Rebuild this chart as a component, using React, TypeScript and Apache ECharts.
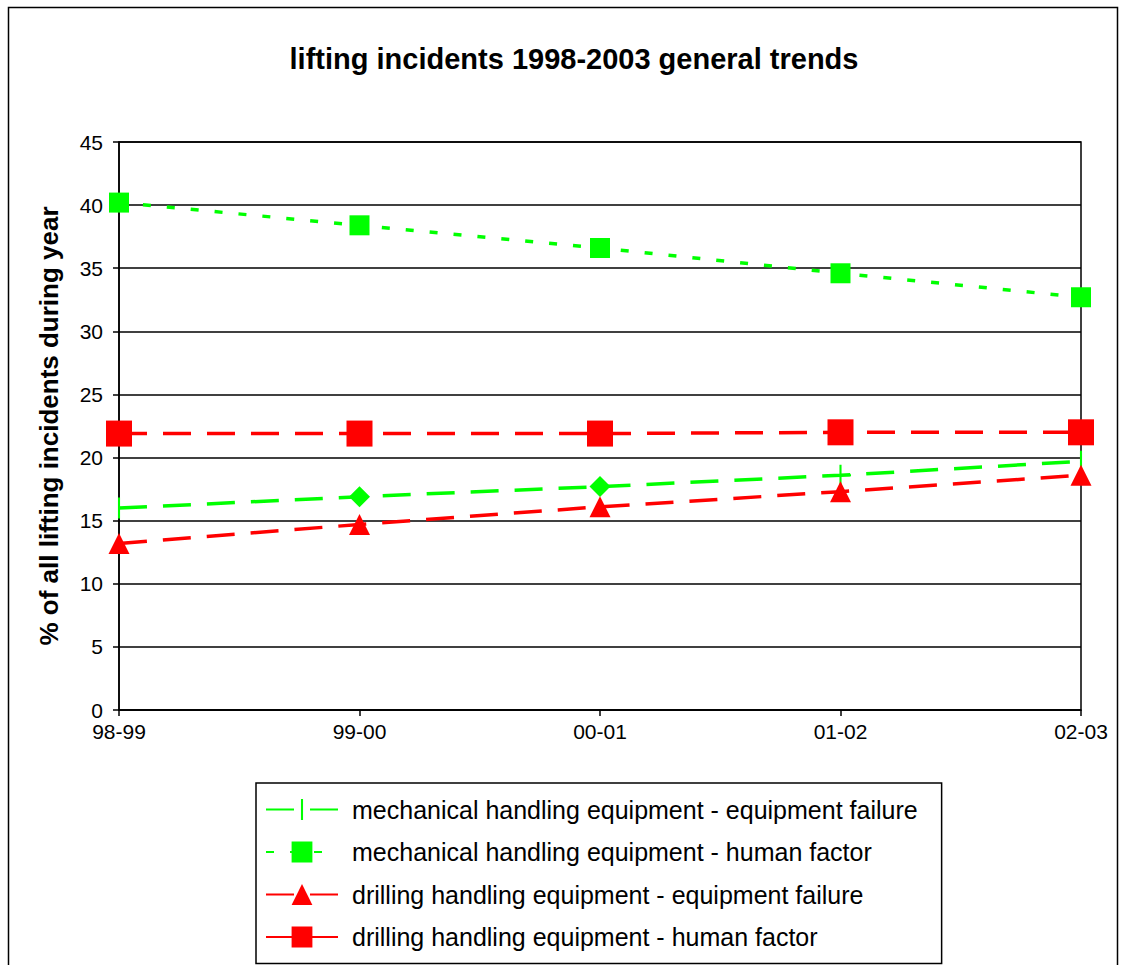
import React, { useEffect, useRef } from "react";
import * as echarts from "echarts";

const categories = ["98-99", "99-00", "00-01", "01-02", "02-03"];
const mechEquipFailure = [16.0, 16.9, 17.7, 18.6, 19.7];
const mechHumanFactor = [40.2, 38.4, 36.6, 34.6, 32.7];
const drillEquipFailure = [13.2, 14.7, 16.1, 17.3, 18.6];
const drillHumanFactor = [21.9, 21.9, 21.9, 22.0, 22.0];
const seriesNames = [
  "mechanical handling equipment - equipment failure",
  "mechanical handling equipment - human factor",
  "drilling handling equipment - equipment failure",
  "drilling handling equipment - human factor",
];
const yTicks = [0, 45, 5];

const FONT = "'Liberation Sans', Arial, sans-serif";
const GREEN = "#00ff00";
const RED = "#ff0000";
const VBAR = "path://M0,0L0.01,0L0,0.01Z M20,20L19.99,20L20,19.99Z M9,0h2v20h-2z";
const PLUS = "path://M9,0h2v9h9v2h-9v9h-2v-9h-9v-2h9z";
const mechMarkers = [VBAR, "diamond", "diamond", PLUS, VBAR];

export default function App() {
  const ref = useRef<HTMLDivElement>(null);
  useEffect(() => {
    const chart = echarts.init(ref.current!, null, { renderer: "svg" });
    chart.setOption({
      animation: false,
      backgroundColor: "#ffffff",
      title: {
        text: "lifting incidents 1998-2003 general trends",
        left: 569,
        textAlign: "center",
        top: 39,
        textStyle: { fontFamily: FONT, fontWeight: "bold", fontSize: 29, color: "#000" },
      },
      graphic: [
        {
          type: "rect",
          shape: { x: 8.5, y: 7.5, width: 1109, height: 980 },
          style: { fill: "none", stroke: "#000", lineWidth: 1.5 },
          silent: true,
        },
      ],
      legend: {
        orient: "vertical",
        left: 256,
        top: 783,
        padding: [14, 24, 14, 9],
        borderColor: "#000",
        borderWidth: 1.5,
        itemWidth: 72,
        itemHeight: 26,
        itemGap: 17.5,
        textStyle: { fontFamily: FONT, fontSize: 25, color: "#000", padding: [0, 0, 0, 9] },
        data: seriesNames,
      },
      grid: {
        left: 119,
        right: 44,
        top: 142,
        bottom: 255,
        show: true,
        borderColor: "#000",
        borderWidth: 1.5,
        containLabel: false,
      },
      xAxis: {
        type: "category",
        data: categories,
        boundaryGap: false,
        axisLine: { lineStyle: { color: "#000", width: 1.5 } },
        axisTick: { show: true, length: 6, lineStyle: { color: "#000", width: 1.5 } },
        axisLabel: { fontFamily: FONT, fontSize: 21, color: "#000", margin: 11 },
      },
      yAxis: {
        type: "value",
        min: yTicks[0],
        max: yTicks[1],
        interval: yTicks[2],
        name: "% of all lifting incidents during year",
        nameLocation: "middle",
        nameGap: 57,
        nameTextStyle: { fontFamily: FONT, fontWeight: "bold", fontSize: 26, color: "#000" },
        axisLine: { show: true, lineStyle: { color: "#000", width: 1.5 } },
        axisTick: { show: true, length: 6, lineStyle: { color: "#000", width: 1.5 } },
        axisLabel: { fontFamily: FONT, fontSize: 21, color: "#000", margin: 16 },
        splitLine: { show: true, lineStyle: { color: "#000", width: 1.5 } },
      },
      series: [
        {
          name: seriesNames[0],
          type: "line",
          symbol: VBAR,
          symbolSize: 21,
          data: mechEquipFailure.map((v, i) => ({ value: v, symbol: mechMarkers[i] })),
          itemStyle: { color: GREEN },
          lineStyle: { color: GREEN, width: 3.5, type: [28, 16] },
          z: 3,
        },
        {
          name: seriesNames[1],
          type: "line",
          symbol: "rect",
          symbolSize: 20,
          data: mechHumanFactor,
          itemStyle: { color: GREEN },
          lineStyle: { color: GREEN, width: 3.5, type: [8, 16] },
          z: 3,
        },
        {
          name: seriesNames[2],
          type: "line",
          symbol: "triangle",
          symbolSize: 21,
          data: drillEquipFailure,
          itemStyle: { color: RED },
          lineStyle: { color: RED, width: 3.5, type: [28, 16] },
          z: 4,
        },
        {
          name: seriesNames[3],
          type: "line",
          symbol: "rect",
          symbolSize: 26,
          data: drillHumanFactor,
          itemStyle: { color: RED },
          lineStyle: { color: RED, width: 3.5, type: [28, 16] },
          z: 4,
        },
      ],
    });
    return () => chart.dispose();
  }, []);
  return (
    <div
      ref={ref}
      style={{ position: "absolute", left: 0, top: 0, width: 1125, height: 965 }}
    />
  );
}
